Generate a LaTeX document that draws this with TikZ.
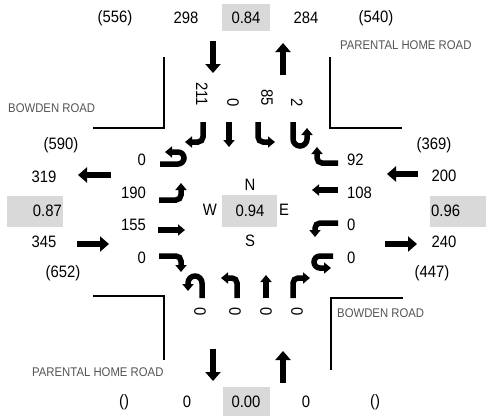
\documentclass[tikz,border=0pt]{standalone}
\usepackage{fontspec}
\setmainfont{Liberation Sans}[FakeStretch=0.9]
\usetikzlibrary{arrows.meta}
\definecolor{boxgray}{RGB}{217,217,217}
\definecolor{roadgray}{RGB}{85,85,85}
\tikzset{
  num/.style={font=\fontsize{16.5}{16.5}\selectfont, inner sep=0pt},
  road/.style={font=\fontsize{12.6}{12.6}\selectfont, inner sep=0pt, anchor=west, text=roadgray},
  vcbox/.style={fill=boxgray, draw=none},
  bigarrow/.style={line width=6.5pt, -{Triangle[width=15pt,length=9pt]}},
  lanearrow/.style={line width=5.5pt, -{Triangle[width=11pt,length=7pt]}, rounded corners=5pt},
  curb/.style={line width=1.8pt},
}
\begin{document}
\begin{tikzpicture}[x=1pt,y=-1pt]
\useasboundingbox (0,0) rectangle (486,416);
% grey ratio boxes
\fill[vcbox] (222,4) rectangle (270,31);
\fill[vcbox] (223,387) rectangle (270,416);
\fill[vcbox] (7,196) rectangle (63,227);
\fill[vcbox] (430,196) rectangle (486,227);
\fill[vcbox] (222,195) rectangle (277,227);
% top row
\node[num] (t1) at (115,18) {(556)};
\node[num] (t2) at (186,18) {298};
\node[num] (t3) at (246,18) {0.84};
\node[num] (t4) at (306,18) {284};
\node[num] (t5) at (376,18) {(540)};
% bottom row
\node[num] (b1) at (124,402) {()};
\node[num] (b2) at (187,402) {0};
\node[num] (b3) at (246,402) {0.00};
\node[num] (b4) at (306,402) {0};
\node[num] (b5) at (375,402) {()};
% left column
\node[num] (l1) at (61,145) {(590)};
\node[num] (l2) at (44,177) {319};
\node[num, anchor=east] (l3) at (62,211) {0.87};
\node[num] (l4) at (44,242) {345};
\node[num] (l5) at (63,273) {(652)};
% right column
\node[num] (r1) at (434,145) {(369)};
\node[num] (r2) at (444,176) {200};
\node[num, anchor=west] (r3) at (431,211) {0.96};
\node[num] (r4) at (444,242) {240};
\node[num] (r5) at (432,273) {(447)};
% centre
\node[num] (cn) at (250,185) {N};
\node[num] (cw) at (210,210) {W};
\node[num] (cv) at (250,211) {0.94};
\node[num] (ce) at (284,210) {E};
\node[num] (cs) at (250,241) {S};
% inner left labels
\node[num, anchor=east] (il1) at (146,160) {0};
\node[num, anchor=east] (il2) at (146,193) {190};
\node[num, anchor=east] (il3) at (146,225) {155};
\node[num, anchor=east] (il4) at (146,258) {0};
% inner right labels
\node[num, anchor=west] (ir1) at (347,160) {92};
\node[num, anchor=west] (ir2) at (347,193) {108};
\node[num, anchor=west] (ir3) at (347,225) {0};
\node[num, anchor=west] (ir4) at (347,258) {0};
% inner top labels (rotated)
\node[num, rotate=-90, anchor=east] (it1) at (202,106) {211};
\node[num, rotate=-90, anchor=east] (it2) at (233,107) {0};
\node[num, rotate=-90, anchor=east] (it3) at (267,106) {85};
\node[num, rotate=-90, anchor=east] (it4) at (297,107) {2};
% inner bottom labels (rotated)
\node[num, rotate=-90] (ib1) at (200,312) {0};
\node[num, rotate=-90] (ib2) at (235,312) {0};
\node[num, rotate=-90] (ib3) at (266,312) {0};
\node[num, rotate=-90] (ib4) at (297,312) {0};
% road names
\node[road] (rn1) at (340,45) {PARENTAL HOME ROAD};
\node[road] (rn2) at (8,108) {BOWDEN ROAD};
\node[road] (rn3) at (337,313) {BOWDEN ROAD};
\node[road] (rn4) at (32,372) {PARENTAL HOME ROAD};
% curbs
\draw[curb] (93,128) -- (164,128) -- (164,57);
\draw[curb] (330,57) -- (330,128) -- (402,128);
\draw[curb] (93,296) -- (164,296) -- (164,360);
\draw[curb] (331,370) -- (331,298) -- (403,298);
% outer arrows
\draw[bigarrow] (213,41) -- (213,73);
\draw[bigarrow] (283,75) -- (283,43);
\draw[bigarrow] (213,349) -- (213,381);
\draw[bigarrow] (283,383) -- (283,351);
\draw[bigarrow] (111,175) -- (78,175);
\draw[bigarrow] (77,244) -- (109,244);
\draw[bigarrow] (418,174) -- (387,174);
\draw[bigarrow] (385,244) -- (417,244);
% southbound lanes
\draw[lanearrow] (203,122) -- (203,142) -- (185,142);
\draw[lanearrow] (229,122) -- (229,147);
\draw[lanearrow] (258,122) -- (258,142) -- (275,142);
\draw[lanearrow, rounded corners=7pt] (293,122) -- (293,146) -- (307,146) -- (307,128);
% eastbound lanes
\draw[lanearrow, rounded corners=6pt] (160,164) -- (184,164) -- (184,152) -- (165,152);
\draw[lanearrow] (159,200) -- (181,200) -- (181,183);
\draw[lanearrow] (158,230) -- (185,230);
\draw[lanearrow] (159,256) -- (181,256) -- (181,272);
% northbound lanes
\draw[lanearrow, rounded corners=7pt] (202,298) -- (202,276) -- (188,276) -- (188,291);
\draw[lanearrow] (237,298) -- (237,278) -- (221,278);
\draw[lanearrow] (266,298) -- (266,275);
\draw[lanearrow] (293,298) -- (293,278) -- (310,278);
% westbound lanes
\draw[lanearrow] (338,163) -- (317,163) -- (317,147);
\draw[lanearrow] (338,190) -- (312,190);
\draw[lanearrow] (338,223) -- (315,223) -- (315,237);
\draw[lanearrow, rounded corners=6pt] (333,256) -- (314,256) -- (314,268) -- (331,268);
\end{tikzpicture}
\end{document}
